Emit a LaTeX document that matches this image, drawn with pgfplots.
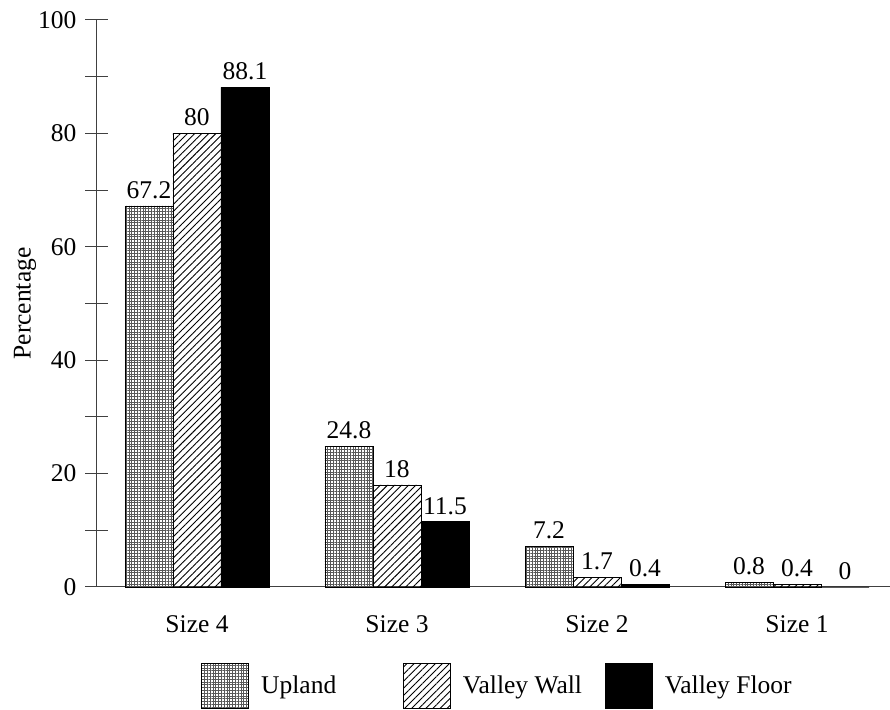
\documentclass[border=0pt]{standalone}
\usepackage{fontspec}
\setmainfont{Liberation Serif}
\usepackage{pgfplots}
\pgfplotsset{compat=1.18}
\usetikzlibrary{patterns,patterns.meta}

\pgfplotstableread{
x upland wall floor
0 67.2 80  88.1
1 24.8 18  11.5
2 7.2  1.7 0.4
3 0.8  0.4 0
}\datatable

\newcommand{\fnt}{\fontsize{12.75}{15}\selectfont}

\begin{document}
\begin{tikzpicture}
\path[use as bounding box] (-48.5pt,-61.5pt) rectangle (396.5pt,293.5pt);
\begin{axis}[
  scale only axis,
  width=396.5pt, height=283.5pt,
  at={(0,0)}, anchor=south west,
  xmin=-0.5, xmax=3.465,
  ymin=0, ymax=100,
  axis x line=bottom, axis y line=left,
  axis line style={-, line width=0.5pt, black!75},
  ybar=0pt, bar width=24pt,
  xtick={0,1,2,3},
  xticklabels={Size 4, Size 3, Size 2, Size 1},
  major x tick style={draw=none},
  extra x ticks={-0.5,0.5,1.5,2.5},
  extra x tick labels={},
  extra x tick style={major tick length=8pt, tick align=center, tick style={draw=black!75, line width=0.5pt}},
  ytick={0,20,40,60,80,100},
  minor ytick={10,30,50,70,90},
  major tick length=11.5pt, minor tick length=11.5pt,
  tick align=center,
  y tick style={draw=black!75, line width=0.5pt},
  minor y tick style={draw=black!75, line width=0.5pt},
  /pgf/number format/assume math mode=true,
  tick label style={font=\fnt},
  yticklabel style={xshift=-1pt},
  xticklabel style={yshift=-5pt},
  ylabel={Percentage},
  every axis y label/.style={at={(-36pt,0.5)}, rotate=90, anchor=center, font=\fnt},
  nodes near coords,
  nodes near coords style={font=\fnt, inner sep=3.5pt},
  clip=false,
  legend columns=3,
  legend image code/.code={\draw[#1] (0pt,-11.25pt) rectangle (23.5pt,11.25pt);},
  legend style={draw=none, fill=none, font=\fnt, inner sep=0pt,
    at={(52pt,-38pt)}, anchor=north west,
    nodes={inner sep=0pt},
    /tikz/every odd column/.append style={column sep=6pt}},
  legend cell align=left,
]
\addplot[draw=black, line width=0.4pt, pattern color=black!65, pattern={Hatch[angle=0,distance=1.4pt,line width=0.3pt]}] table[x=x,y=upland] {\datatable};
\addlegendentry{\makebox[71pt][l]{Upland}}
\addplot[draw=black, line width=0.4pt, pattern={Lines[angle=45,distance=2.5pt,line width=0.45pt]}] table[x=x,y=wall] {\datatable};
\addlegendentry{\makebox[71pt][l]{Valley Wall}}
\addplot[draw=black, line width=0.4pt, fill=black] table[x=x,y=floor] {\datatable};
\addlegendentry{Valley Floor}
\end{axis}
\end{tikzpicture}
\end{document}
